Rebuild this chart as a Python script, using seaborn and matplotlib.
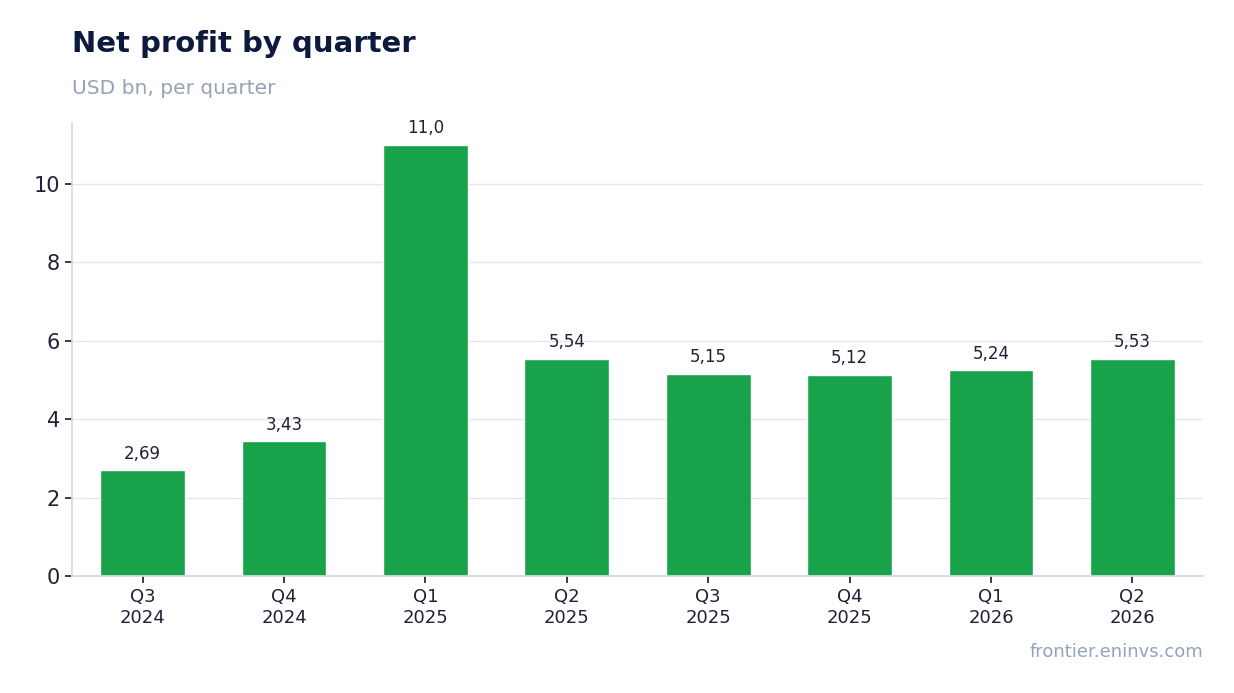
import matplotlib
matplotlib.use("Agg")
import matplotlib.pyplot as plt
import seaborn as sns
import pandas as pd

# values
quarters = ["Q3\n2024", "Q4\n2024", "Q1\n2025", "Q2\n2025", "Q3\n2025", "Q4\n2025", "Q1\n2026", "Q2\n2026"]
profit = [2.69, 3.43, 11.0, 5.54, 5.15, 5.12, 5.24, 5.53]
labels = ["2,69", "3,43", "11,0", "5,54", "5,15", "5,12", "5,24", "5,53"]

df = pd.DataFrame({"quarter": quarters, "profit": profit})

sns.set_theme(style="white")
plt.rcParams["font.family"] = ["DejaVu Sans"]

fig = plt.figure(figsize=(12.34, 6.93), dpi=100)
ax = fig.add_axes([72 / 1234, 1 - 576 / 693, (1203 - 72) / 1234, (576 - 123) / 693])

sns.barplot(data=df, x="quarter", y="profit", color="#18a34a", saturation=1, width=0.6, ax=ax)

for i, (v, t) in enumerate(zip(profit, labels)):
    ax.text(i, v + 0.2, t, ha="center", va="bottom", fontsize=12, color="#1e2235")

ax.set_ylim(0, 11.55)
ax.set_yticks([0, 2, 4, 6, 8, 10])
ax.yaxis.grid(True, color="#e2e6ef", linewidth=1)
ax.set_axisbelow(True)
ax.set_xlabel("")
ax.set_ylabel("")
ax.tick_params(axis="y", labelsize=15, colors="#1e2235", left=True, length=5, color="#1e2235")
ax.tick_params(axis="x", labelsize=13, colors="#1e2235", bottom=True, length=5, color="#1e2235")
for s in ["top", "right"]:
    ax.spines[s].set_visible(False)
for s in ["left", "bottom"]:
    ax.spines[s].set_color("#d5d9e4")

fig.text(72 / 1234, 1 - 44 / 693, "Net profit by quarter", fontsize=21, fontweight="bold",
         color="#0c1a3e", va="center")
fig.text(72 / 1234, 1 - 88 / 693, "USD bn, per quarter", fontsize=14.5, color="#94a3b8", va="center")
fig.text(1203 / 1234, 1 - 652 / 693, "frontier.eninvs.com", fontsize=13, color="#94a3b8",
         ha="right", va="center")

fig.savefig("out.png", dpi=100)
